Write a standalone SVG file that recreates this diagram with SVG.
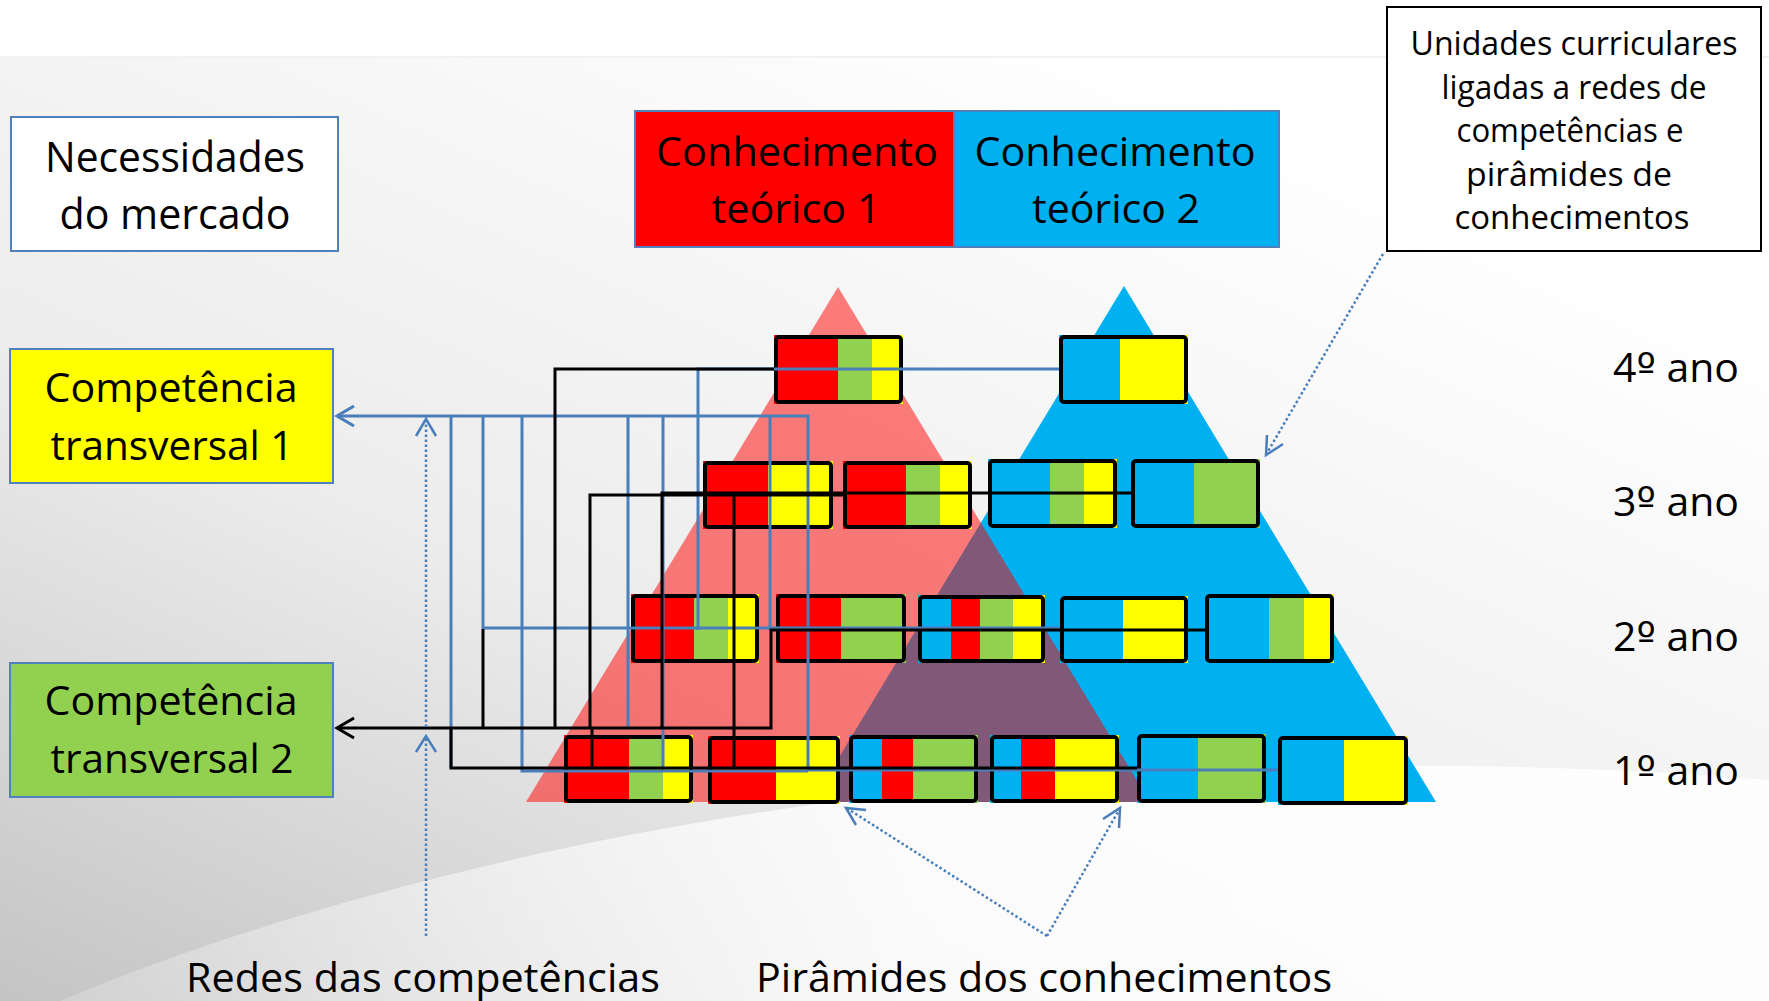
<svg xmlns="http://www.w3.org/2000/svg" width="1769" height="1001" viewBox="0 0 1769 1001">
<defs>
<linearGradient id="bg" x1="0" y1="1" x2="0.75" y2="0.1">
<stop offset="0" stop-color="#c4c4c4"/>
<stop offset="0.45" stop-color="#ececec"/>
<stop offset="1" stop-color="#ffffff"/>
</linearGradient>
<linearGradient id="sw" x1="0" y1="0" x2="1" y2="0">
<stop offset="0" stop-color="#ffffff" stop-opacity="0.2"/>
<stop offset="0.5" stop-color="#ffffff" stop-opacity="0.85"/>
<stop offset="1" stop-color="#ffffff" stop-opacity="0.9"/>
</linearGradient>
</defs>
<style>
.t{font-family:"Open Sans","Noto Sans","Liberation Sans",sans-serif;fill:#000;text-anchor:middle}
.o{font-family:"DejaVu Sans","Liberation Sans",sans-serif}
.tb{stroke:#4f81bd;stroke-width:2}
.uc{fill:none;stroke:#000;stroke-width:4}
.r{fill:#ff0000}.b{fill:#00b0f0}.g{fill:#92d050}.y{fill:#ffff00}
.lb{fill:none;stroke:#4a7ebb;stroke-width:3}
.lk{fill:none;stroke:#000;stroke-width:3}
.ab{fill:none;stroke:#4a7ebb;stroke-width:3}
.ak{fill:none;stroke:#000;stroke-width:3}
.dot{fill:none;stroke:#4a7ebb;stroke-width:2.5;stroke-dasharray:2.5 2.5}
.dh{fill:none;stroke:#4a7ebb;stroke-width:2.5}
</style>
<rect x="0" y="0" width="1769" height="1001" fill="#ffffff"/>
<rect x="0" y="57" width="1769" height="944" fill="url(#bg)"/>
<line x1="0" y1="57" x2="1769" y2="57" stroke="#f2f2f2" stroke-width="2"/>
<path d="M60,1001 C300,900 700,790 1200,770 C1450,760 1650,770 1769,780 L1769,1001 Z" fill="url(#sw)"/>

<g id="triangles">
<polygon points="1124,286 812,802 1436,802" fill="#00b0f0"/>
<polygon points="838,287 526,802 1150,802" fill="#ff0000" fill-opacity="0.5"/>
</g>

<g id="necessidades">
<rect x="11" y="117" width="327" height="134" fill="#ffffff" class="tb"/>
<text class="t" x="175" y="172" font-size="42" textLength="260" lengthAdjust="spacingAndGlyphs">Necessidades</text>
<text class="t" x="175" y="229" font-size="42" textLength="231" lengthAdjust="spacingAndGlyphs">do mercado</text>
</g>

<g id="conhecimento1">
<rect x="635" y="111" width="319" height="136" class="r tb"/>
<text class="t" x="797" y="166" font-size="41" textLength="282" lengthAdjust="spacingAndGlyphs">Conhecimento</text>
<text class="t" x="796" y="223" font-size="41" textLength="169" lengthAdjust="spacingAndGlyphs">teórico 1</text>
</g>
<g id="conhecimento2">
<rect x="954" y="111" width="325" height="136" class="b tb"/>
<text class="t" x="1115" y="166" font-size="41" textLength="281" lengthAdjust="spacingAndGlyphs">Conhecimento</text>
<text class="t" x="1116" y="223" font-size="41" textLength="168" lengthAdjust="spacingAndGlyphs">teórico 2</text>
</g>

<g id="unidades">
<rect x="1387" y="7" width="374" height="244" fill="#ffffff" stroke="#000" stroke-width="2"/>
<text class="t" x="1574" y="55" font-size="32" textLength="327" lengthAdjust="spacingAndGlyphs">Unidades curriculares</text>
<text class="t" x="1574" y="98.5" font-size="32" textLength="265" lengthAdjust="spacingAndGlyphs">ligadas a redes de</text>
<text class="t" x="1570" y="142" font-size="32" textLength="227" lengthAdjust="spacingAndGlyphs">competências e</text>
<text class="t" x="1569" y="185.5" font-size="32" textLength="206" lengthAdjust="spacingAndGlyphs">pirâmides de</text>
<text class="t" x="1572" y="229" font-size="32" textLength="235" lengthAdjust="spacingAndGlyphs">conhecimentos</text>
</g>

<g id="ct1">
<rect x="10" y="349" width="323" height="134" class="y tb"/>
<text class="t" x="171" y="402" font-size="41" textLength="253" lengthAdjust="spacingAndGlyphs">Competência</text>
<text class="t" x="172" y="460" font-size="41" textLength="243" lengthAdjust="spacingAndGlyphs">transversal 1</text>
</g>
<g id="ct2">
<rect x="10" y="663" width="323" height="134" class="g tb"/>
<text class="t" x="171" y="715" font-size="41" textLength="253" lengthAdjust="spacingAndGlyphs">Competência</text>
<text class="t" x="172" y="773" font-size="41" textLength="243" lengthAdjust="spacingAndGlyphs">transversal 2</text>
</g>

<g id="years">
<text class="t" x="1676" y="382" font-size="40" textLength="126" lengthAdjust="spacingAndGlyphs">4<tspan class="o">º</tspan> ano</text>
<text class="t" x="1676" y="516" font-size="40" textLength="126" lengthAdjust="spacingAndGlyphs">3<tspan class="o">º</tspan> ano</text>
<text class="t" x="1676" y="651" font-size="40" textLength="126" lengthAdjust="spacingAndGlyphs">2<tspan class="o">º</tspan> ano</text>
<text class="t" x="1676" y="785" font-size="40" textLength="126" lengthAdjust="spacingAndGlyphs">1<tspan class="o">º</tspan> ano</text>
</g>

<g id="uc-A"><rect class="r" x="774" y="335" width="64" height="69"/><rect class="g" x="838" y="335" width="34" height="69"/><rect class="y" x="872" y="335" width="31" height="69"/><rect class="uc" x="776" y="337" width="125" height="65" rx="3"/></g>
<g id="uc-B"><rect class="b" x="1059" y="335" width="61" height="69"/><rect class="y" x="1120" y="335" width="68" height="69"/><rect class="uc" x="1061" y="337" width="125" height="65" rx="3"/></g>
<g id="uc-C"><rect class="r" x="703" y="461" width="65" height="68"/><rect class="y" x="768" y="461" width="65" height="68"/><rect class="uc" x="705" y="463" width="126" height="64" rx="3"/></g>
<g id="uc-D"><rect class="r" x="843" y="461" width="63" height="68"/><rect class="g" x="906" y="461" width="34" height="68"/><rect class="y" x="940" y="461" width="32" height="68"/><rect class="uc" x="845" y="463" width="125" height="64" rx="3"/></g>
<g id="uc-E"><rect class="b" x="988" y="459" width="62" height="69"/><rect class="g" x="1050" y="459" width="34" height="69"/><rect class="y" x="1084" y="459" width="33" height="69"/><rect class="uc" x="990" y="461" width="125" height="65" rx="3"/></g>
<g id="uc-F"><rect class="b" x="1131" y="459" width="63" height="69"/><rect class="g" x="1194" y="459" width="66" height="69"/><rect class="uc" x="1133" y="461" width="125" height="65" rx="3"/></g>
<g id="uc-G"><rect class="r" x="631" y="594" width="63" height="69"/><rect class="g" x="694" y="594" width="34" height="69"/><rect class="y" x="728" y="594" width="31" height="69"/><rect class="uc" x="633" y="596" width="124" height="65" rx="3"/></g>
<g id="uc-H"><rect class="r" x="776" y="594" width="65" height="69"/><rect class="g" x="841" y="594" width="65" height="69"/><rect class="uc" x="778" y="596" width="126" height="65" rx="3"/></g>
<g id="uc-I"><rect class="b" x="918" y="595" width="33" height="68"/><rect class="r" x="951" y="595" width="29" height="68"/><rect class="g" x="980" y="595" width="33" height="68"/><rect class="y" x="1013" y="595" width="32" height="68"/><rect class="uc" x="920" y="597" width="123" height="64" rx="3"/></g>
<g id="uc-J"><rect class="b" x="1060" y="596" width="63" height="67"/><rect class="y" x="1123" y="596" width="65" height="67"/><rect class="uc" x="1062" y="598" width="124" height="63" rx="3"/></g>
<g id="uc-K"><rect class="b" x="1205" y="594" width="64" height="69"/><rect class="g" x="1269" y="594" width="35" height="69"/><rect class="y" x="1304" y="594" width="30" height="69"/><rect class="uc" x="1207" y="596" width="125" height="65" rx="3"/></g>
<g id="uc-L"><rect class="r" x="564" y="735" width="65" height="68"/><rect class="g" x="629" y="735" width="34" height="68"/><rect class="y" x="663" y="735" width="30" height="68"/><rect class="uc" x="566" y="737" width="125" height="64" rx="3"/></g>
<g id="uc-M"><rect class="r" x="708" y="736" width="68" height="68"/><rect class="y" x="776" y="736" width="64" height="68"/><rect class="uc" x="710" y="738" width="128" height="64" rx="3"/></g>
<g id="uc-N"><rect class="b" x="849" y="735" width="33" height="68"/><rect class="r" x="882" y="735" width="31" height="68"/><rect class="g" x="913" y="735" width="65" height="68"/><rect class="uc" x="851" y="737" width="125" height="64" rx="3"/></g>
<g id="uc-O"><rect class="b" x="990" y="735" width="31" height="68"/><rect class="r" x="1021" y="735" width="34" height="68"/><rect class="y" x="1055" y="735" width="64" height="68"/><rect class="uc" x="992" y="737" width="125" height="64" rx="3"/></g>
<g id="uc-P"><rect class="b" x="1137" y="734" width="61" height="69"/><rect class="g" x="1198" y="734" width="68" height="69"/><rect class="uc" x="1139" y="736" width="125" height="65" rx="3"/></g>
<g id="uc-Q"><rect class="b" x="1278" y="736" width="66" height="69"/><rect class="y" x="1344" y="736" width="64" height="69"/><rect class="uc" x="1280" y="738" width="126" height="65" rx="3"/></g>

<g id="connectors">
<path class="lb" d="M337,416 H808 V770 H1278"/>
<path class="lb" d="M1059,369 H698 V630"/>
<path class="lb" d="M451,416 V768"/>
<path class="lb" d="M483,416 V628 H1060"/>
<path class="lb" d="M522,416 V771 H808"/>
<path class="lb" d="M628,416 V728"/>
<path class="lb" d="M663,416 V771"/>
<path class="lb" d="M770,416 V630"/>
<path class="lk" d="M337,728 H771 V630 H1205"/>
<path class="lk" d="M774,369 H555 V728"/>
<path class="lk" d="M843,495 H590 V728"/>
<path class="lk" d="M1131,493 H662 V728"/>
<path class="lk" d="M483,629 V728"/>
<path class="lk" d="M451,728 V768 H1137"/>
<path class="lk" d="M734,495 V768"/>
<path class="lk" d="M592,728 V768"/>
<polyline class="ab" points="354,406 337,416 354,426"/>
<polyline class="ak" points="354,718 337,728 354,738"/>
<path class="dot" d="M426,936 V737"/>
<polyline class="dh" points="416,752 426,736 436,752"/>
<path class="dot" d="M426,727 V420"/>
<polyline class="dh" points="416,436 426,419 436,436"/>
<path class="dot" d="M1047,936 L848,809"/>
<polyline class="dh" points="866,810 846,808 856,825"/>
<path class="dot" d="M1047,936 L1119,810"/>
<polyline class="dh" points="1119,828 1120,808 1103,819"/>
<path class="dot" d="M1383,254 L1267,453"/>
<polyline class="dh" points="1283,444 1266,455 1267,435"/>
</g>

<g id="captions">
<text class="t" x="423" y="992" font-size="41" textLength="474" lengthAdjust="spacingAndGlyphs">Redes das competências</text>
<text class="t" x="1044" y="992" font-size="41" textLength="576" lengthAdjust="spacingAndGlyphs">Pirâmides dos conhecimentos</text>
</g>
</svg>
